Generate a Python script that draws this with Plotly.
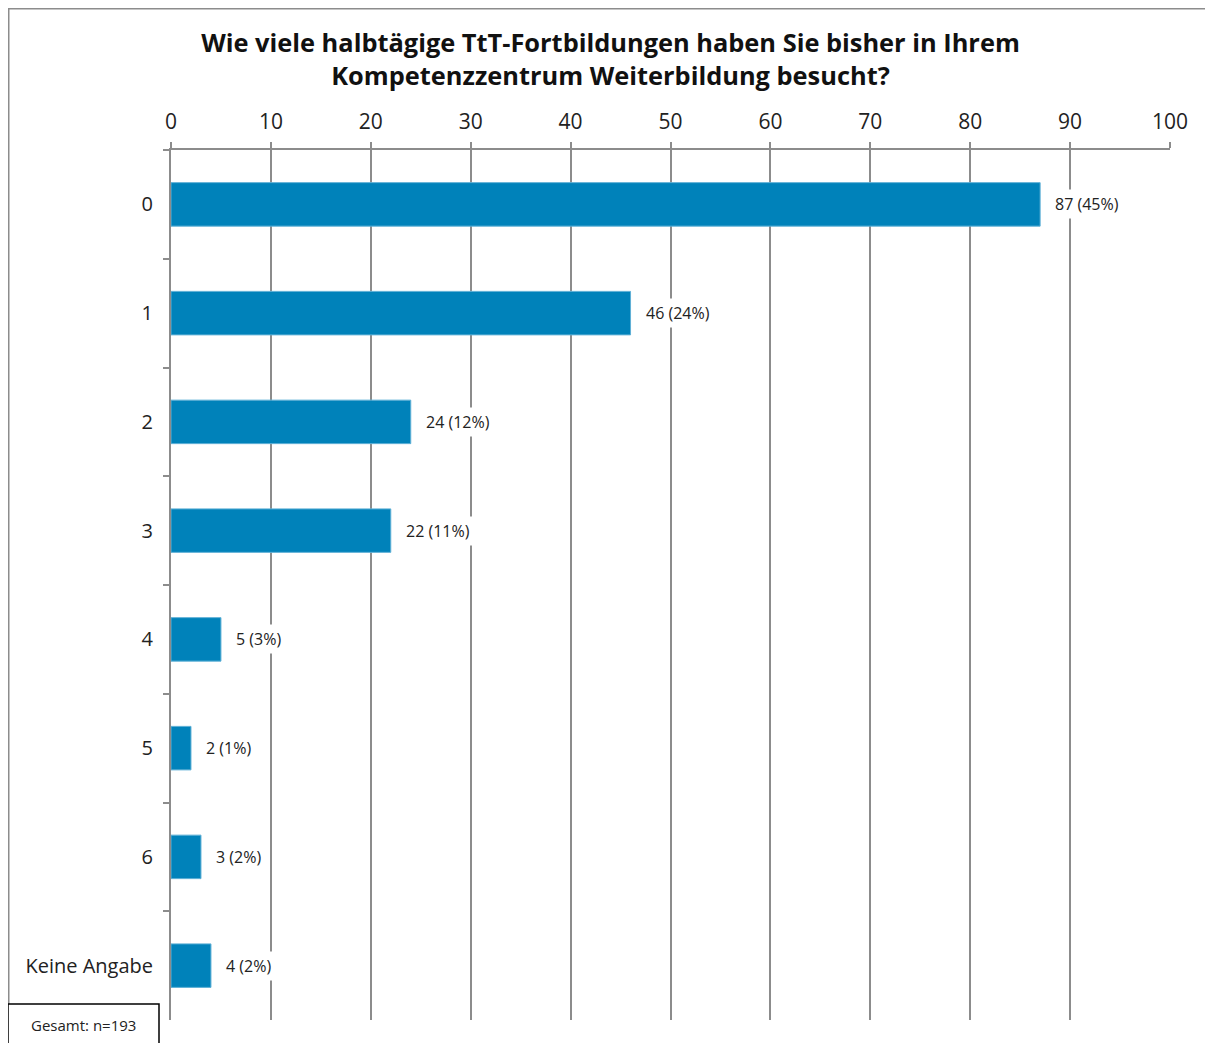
import plotly.graph_objects as go

categories = ["0", "1", "2", "3", "4", "5", "6", "Keine Angabe"]
counts = [87, 46, 24, 22, 5, 2, 3, 4]
percents = [45, 24, 12, 11, 3, 1, 2, 2]
x_ticks = [0, 10, 20, 30, 40, 50, 60, 70, 80, 90, 100]
title_text = ("Wie viele halbtägige TtT-Fortbildungen haben Sie bisher in Ihrem<br>"
              "Kompetenzzentrum Weiterbildung besucht?")
note_text = "Gesamt: n=193"

# page has an 8px body margin; figure coordinates = page coordinates - 8
W, H = 1205, 1035
L, T = 163, 142
R = W - 1162
B = H - 1012
pw, ph = W - L - R, H - T - B

def px(x):
    return (x - L) / pw

def py(y):
    return (H - B - y) / ph

FONT = "Open Sans"
GRID = "#8c8c8c"

fig = go.Figure(go.Bar(
    x=counts, y=categories, orientation="h", width=0.4,
    marker=dict(color="#0082BA", line=dict(color="#5fb0d6", width=1)),
    hoverinfo="skip",
))

for c, v, p in zip(categories, counts, percents):
    fig.add_annotation(x=v, y=c, xref="x", yref="y", text=f"{v} ({p}%)",
                       showarrow=False, xanchor="left", xshift=11,
                       bgcolor="white", borderpad=3,
                       font=dict(family=FONT, size=16, color="#222"))

fig.update_layout(
    width=W, height=H,
    margin=dict(l=L, r=R, t=T, b=B, autoexpand=False),
    paper_bgcolor="white", plot_bgcolor="white",
    showlegend=False,
    font=dict(family=FONT, color="#222"),
    title=dict(text=title_text, x=0.5, xref="container", xanchor="center",
               y=1 - 44 / H, yanchor="middle",
               font=dict(family=FONT, size=25.4, color="#111", weight="bold")),
    xaxis=dict(side="top", range=[0, 100], tickvals=x_ticks,
               showgrid=True, gridcolor=GRID, gridwidth=2,
               showline=True, linecolor=GRID, linewidth=2,
               ticks="outside", ticklen=6, tickcolor=GRID, tickwidth=2,
               tickfont=dict(family=FONT, size=21, color="#222"),
               ticklabelstandoff=5, zeroline=False, fixedrange=True),
    yaxis=dict(type="category", categoryorder="array", categoryarray=categories,
               autorange="reversed", showgrid=False,
               showline=True, linecolor=GRID, linewidth=2,
               ticks="outside", tickson="boundaries", ticklen=6,
               tickcolor=GRID, tickwidth=2,
               tickfont=dict(family=FONT, size=20, color="#222"),
               ticklabelstandoff=12, fixedrange=True),
)

# outer frame (cropped at right/bottom)
fig.add_shape(type="rect", xref="paper", yref="paper",
              x0=px(0.5), x1=px(W + 5), y0=py(H + 5), y1=py(0.5),
              line=dict(color="#8c8c8c", width=2), fillcolor="rgba(0,0,0,0)", layer="below")

# note box
fig.add_shape(type="rect", xref="paper", yref="paper",
              x0=px(0), x1=px(151), y0=py(H + 5), y1=py(996),
              line=dict(color="black", width=1.5), fillcolor="white", layer="above")
fig.add_annotation(xref="paper", yref="paper", x=px(75), y=py(1017),
                   text=note_text, showarrow=False, xanchor="center", yanchor="middle",
                   font=dict(family=FONT, size=15, color="#222"))

fig.write_html("out.html")
